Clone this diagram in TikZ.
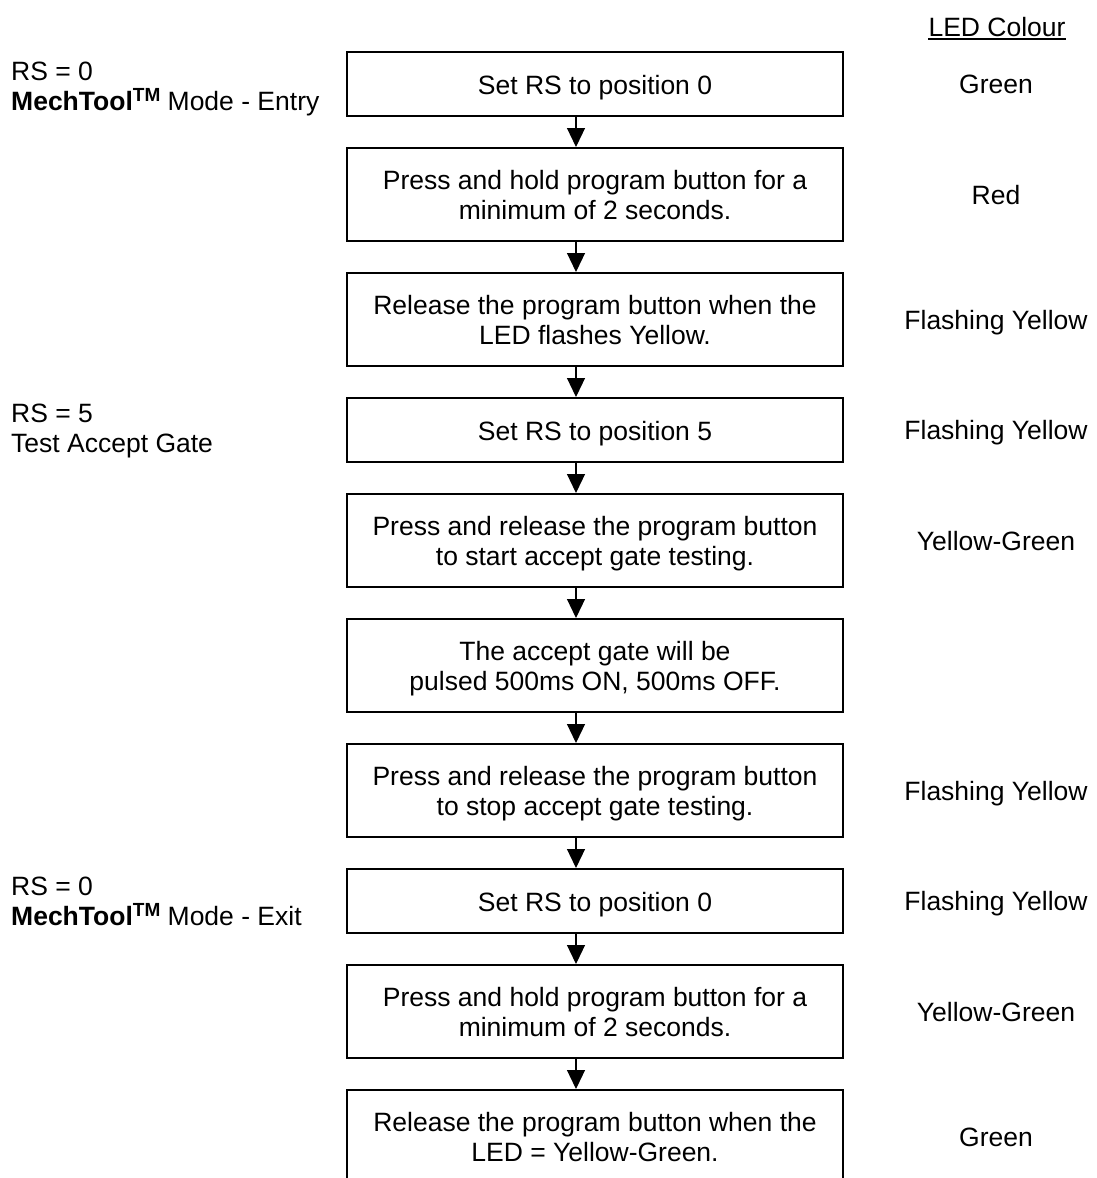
\documentclass[tikz,border=0pt]{standalone}
\usepackage{fontspec}
\setmainfont{Liberation Sans}
\usetikzlibrary{arrows.meta}
\newcommand\topstr{\rule[-8pt]{0pt}{36pt}}
\newcommand\botstr{\rule[-8pt]{0pt}{8pt}}
\newcommand\lstr{\rule[-7pt]{0pt}{29pt}}
\newcommand\tmark{\raisebox{9pt}{\fontsize{19}{19}\selectfont\bfseries TM}}
\begin{document}
\begin{tikzpicture}[x=1pt,y=-1pt,
  every node/.style={font=\fontsize{26.5}{30}\selectfont, inner sep=0pt},
  stepbox/.style={draw, line width=2pt, minimum width=496pt, align=center},
  smallbox/.style={stepbox, minimum height=64pt},
  bigbox/.style={stepbox, minimum height=93pt},
  arr/.style={line width=1.2pt, -{Triangle[width=18pt,length=19pt]}},
  ledtext/.style={anchor=base},
  sidetext/.style={anchor=north west, align=left}]
\useasboundingbox (0,0) rectangle (1097,1178);
\clip (0,0) rectangle (1097,1178);

% header
\node[ledtext] (hdr) at (997,36) {LED Colour};
\draw[line width=1.3pt] ([yshift=-3pt]hdr.base west) -- ([yshift=-3pt]hdr.base east);

% steps
\node[smallbox] (b1) at (595,84) {\topstr Set RS to position 0};
\node[bigbox] (b2) at (595,194.5) {\topstr Press and hold program button for a\\minimum of 2 seconds.\botstr};
\node[bigbox] (b3) at (595,319.5) {\topstr Release the program button when the\\LED flashes Yellow.\botstr};
\node[smallbox] (b4) at (595,430) {\topstr Set RS to position 5};
\node[bigbox] (b5) at (595,540.5) {\topstr Press and release the program button\\to start accept gate testing.\botstr};
\node[bigbox] (b6) at (595,665.5) {\topstr The accept gate will be\\pulsed 500ms ON, 500ms OFF.\botstr};
\node[bigbox] (b7) at (595,790.5) {\topstr Press and release the program button\\to stop accept gate testing.\botstr};
\node[smallbox] (b8) at (595,901) {\topstr Set RS to position 0};
\node[bigbox] (b9) at (595,1011.5) {\topstr Press and hold program button for a\\minimum of 2 seconds.\botstr};
\node[bigbox] (b10) at (595,1136.5) {\topstr Release the program button when the\\LED = Yellow-Green.\botstr};

% arrows
\coordinate (ax) at (576,0);
\foreach \a/\b in {b1/b2,b2/b3,b3/b4,b4/b5,b5/b6,b6/b7,b7/b8,b8/b9,b9/b10}
  \draw[arr] (\a.south -| ax) -- (\b.north -| ax);

% LED colours
\node[ledtext] (c1) at (996,93.5) {Green};
\node[ledtext] (c2) at (996,204) {Red};
\node[ledtext] (c3) at (996,329) {Flashing Yellow};
\node[ledtext] (c4) at (996,439.5) {Flashing Yellow};
\node[ledtext] (c5) at (996,550) {Yellow-Green};
\node[ledtext] (c7) at (996,800) {Flashing Yellow};
\node[ledtext] (c8) at (996,910.5) {Flashing Yellow};
\node[ledtext] (c9) at (996,1021) {Yellow-Green};
\node[ledtext] (c10) at (996,1146) {Green};

% side labels
\node[sidetext] (l1) at (11,58) {\lstr RS = 0\\\textbf{MechTool}\tmark{} Mode - Entry};
\node[sidetext] (l4) at (11,400) {\lstr RS = 5\\Test Accept Gate};
\node[sidetext] (l8) at (11,873) {\lstr RS = 0\\\textbf{MechTool}\tmark{} Mode - Exit};
\end{tikzpicture}
\end{document}
